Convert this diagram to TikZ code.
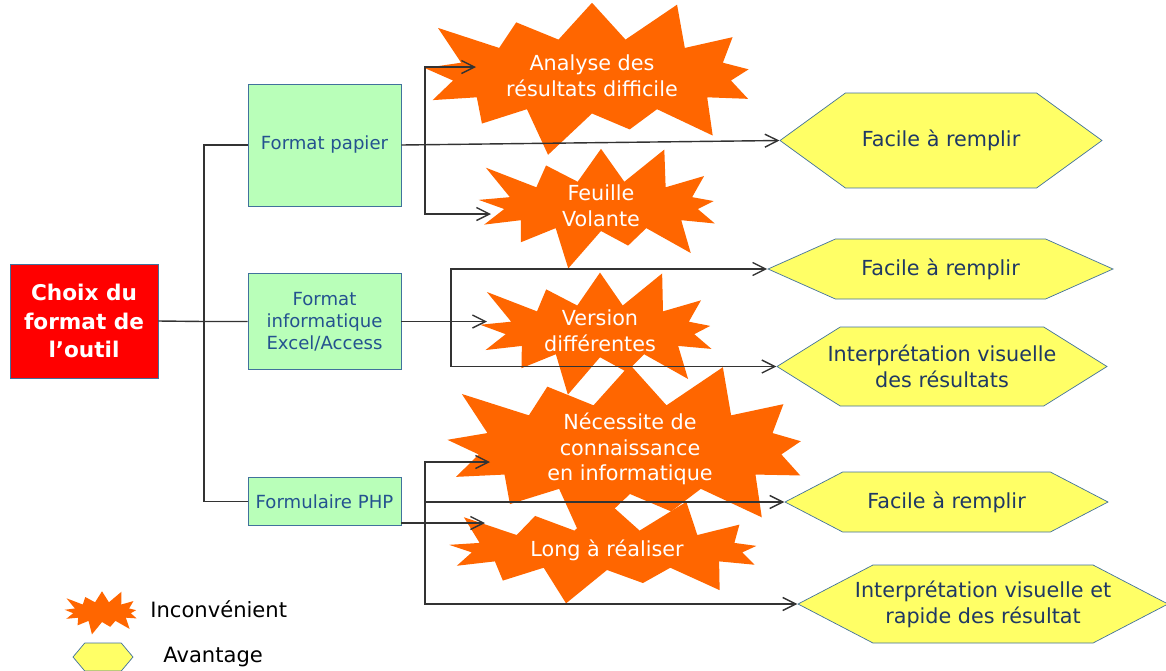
\documentclass[tikz,border=0pt]{standalone}
\usepackage{fontspec}
\setmainfont{DejaVu Sans}
\usetikzlibrary{shapes.symbols,arrows.meta}

\definecolor{rougevif}{HTML}{FF0000}
\definecolor{vertpale}{HTML}{B9FFB9}
\definecolor{orangevif}{HTML}{FF6600}
\definecolor{jaune}{HTML}{FFFF66}
\definecolor{bordbleu}{HTML}{41719C}
\definecolor{texteboite}{HTML}{24528F}
\definecolor{textehex}{HTML}{1F3864}
\definecolor{trait}{HTML}{333333}

\tikzset{
  racine/.style={draw=bordbleu, fill=rougevif, text=white, align=center,
    font=\bfseries\fontsize{12.3}{16}\selectfont,
    minimum width=2.96cm, minimum height=2.28cm},
  boite/.style={draw=bordbleu, fill=vertpale, text=texteboite, align=center,
    font=\fontsize{10.3}{12.5}\selectfont, minimum width=3.06cm, inner sep=1pt},
  % negative inner sep: the star size comes from minimum width/height only
  inconv/.style={starburst, starburst points=13, starburst point height=0.9cm,
    inner sep=-2.5cm, fill=orangevif, draw=none, text=white, align=center,
    font=\fontsize{11.8}{14.5}\selectfont},
  avant/.style={signal, signal to=west and east, draw=bordbleu, fill=jaune,
    text=textehex, align=center, font=\fontsize{11.8}{14.7}\selectfont},
  lien/.style={draw=trait, line width=0.8pt},
  >={Straight Barb[length=2.6mm,width=2.6mm]}
}

\begin{document}
\begin{tikzpicture}[x=0.02cm, y=-0.02cm]
    % Picture frame (one unit is one pixel of the original)
    \useasboundingbox (0,0) rectangle (1166,670);

    % Root and the three formats
    \node[racine] (choix) at (84,321) {Choix du\\format de\\l’outil};
    \node[boite, minimum height=2.44cm] (pap) at (324.5,145) {Format papier};
    \node[boite, minimum height=1.92cm] (info) at (324.5,321.5) {Format\\informatique\\Excel/Access};
    \node[boite, minimum height=0.97cm] (php) at (324.5,501.5) {Formulaire PHP};

    % Drawbacks (starbursts)
    \node[inconv, minimum width=7.6cm, minimum height=3.5cm, starburst point height=1cm] (analyse) at (592,76) {Analyse des\\résultats difficile};
    \node[inconv, minimum width=5.7cm, minimum height=2.8cm] (feuille) at (601,206) {Feuille\\Volante};
    \node[inconv, minimum width=5.6cm, minimum height=2.85cm] (version) at (600,331) {Version\\différentes};
    \node[inconv, minimum width=8.3cm, minimum height=4cm, starburst point height=1.1cm] (necess) at (630,449) {Nécessite de\\connaissance\\en informatique};
    \node[inconv, minimum width=7.05cm, minimum height=2.4cm, starburst point height=0.8cm] (long) at (607,550) {Long à réaliser};

    % Advantages (hexagons)
    \node[avant, signal pointer angle=72, minimum width=6.44cm, minimum height=1.9cm] (fac1) at (941,140.5) {Facile à remplir};
    \node[avant, signal pointer angle=48, minimum width=6.9cm, minimum height=1.2cm] (fac2) at (940.5,269) {Facile à remplir};
    \node[avant, signal pointer angle=64, minimum width=6.6cm, minimum height=1.58cm, inner xsep=-0.31cm] (interp1) at (942,366.5) {Interprétation visuelle\\des résultats};
    \node[avant, signal pointer angle=55, minimum width=6.46cm, minimum height=1.2cm] (fac3) at (946.5,502) {Facile à remplir};
    \node[avant, signal pointer angle=55, minimum width=7.4cm, minimum height=1.56cm, inner xsep=-0.48cm] (interp2) at (983,604) {Interprétation visuelle et\\rapide des résultat};

    % Legend
    \node[inconv, minimum width=1.76cm, minimum height=1cm, starburst point height=0.3cm] (legInc) at (102,612) {};
    \node[anchor=west, inner sep=0pt, font=\fontsize{12}{14}\selectfont] (txtInc) at (150,609) {Inconvénient};
    \node[avant, signal pointer angle=100, minimum width=1.2cm, minimum height=0.56cm, inner sep=0pt] (legAv) at (103,657) {};
    \node[anchor=west, inner sep=0pt, font=\fontsize{12}{14}\selectfont] (txtAv) at (163,657) {Avantage};

    % Trunk from the root
    \coordinate (tronc) at (204,321.5);
    \draw[lien] (choix.east) -- (tronc) -- (info.west);
    \draw[lien] (pap.west) -| (tronc |- php.west) -- (php.west);

    % Format papier
    \coordinate (busPap) at (425,145);
    \coordinate (flAnalyse) at (476,67);
    \coordinate (flFeuille) at (491,214);
    \draw[lien, ->] (pap.east) -- (fac1.west);
    \draw[lien, <->] (flAnalyse) -| (busPap) |- (flFeuille);

    % Format informatique
    \coordinate (busInfo) at (451,321.5);
    \coordinate (flVersion) at (487,321.5);
    \draw[lien, ->] (info.east) -- (flVersion);
    \draw[lien, <->] (fac2.west) -| (busInfo) |- (interp1.west);

    % Formulaire PHP
    \coordinate (busPhp) at (425,511);
    \coordinate (flNecess) at (490,462);
    \coordinate (flLong) at (485,523);
    \draw[lien, ->] (php.east |- flLong) -- (flLong);
    \draw[lien, ->] (busPhp |- fac3.west) -- (fac3.west);
    \draw[lien, <->] (flNecess) -| (busPhp) |- (interp2.west);
\end{tikzpicture}
\end{document}
